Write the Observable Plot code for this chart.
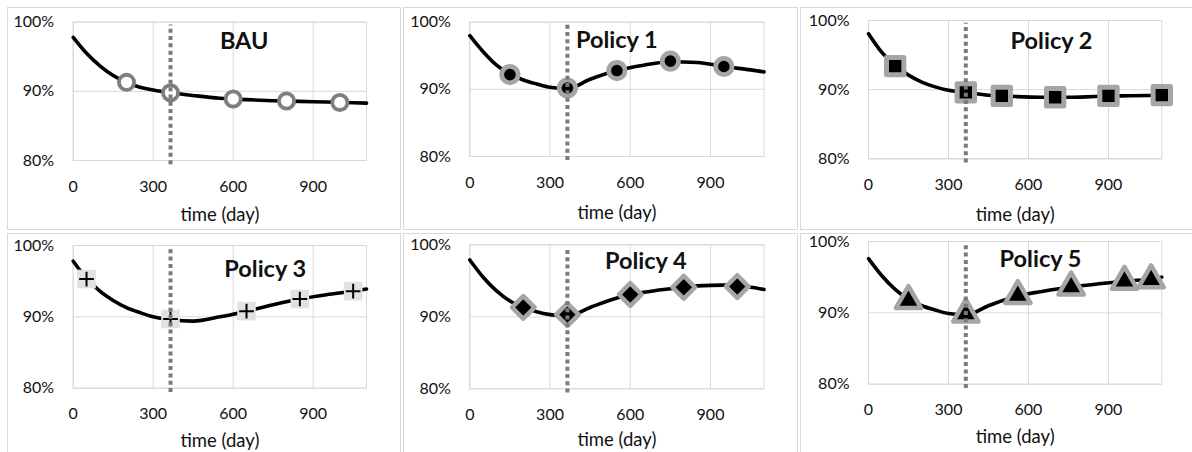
<!DOCTYPE html>
<html><head><meta charset="utf-8">
<script src="https://cdn.jsdelivr.net/npm/d3@7"></script>
<script src="https://cdn.jsdelivr.net/npm/@observablehq/plot@0.6"></script>
<style>
html,body{margin:0;padding:0;background:#fff;}
#chart{position:relative;width:1192px;height:452px;overflow:hidden;background:#fff;font-family:Lato,sans-serif;}
.cell{position:absolute;border:1px solid #d9d9d9;box-sizing:border-box;}
#chart svg{position:absolute;overflow:visible;}
</style></head><body><div id="chart"></div>
<script>
// ---- data ----
const panelNames = ["BAU", "Policy 1", "Policy 2", "Policy 3", "Policy 4", "Policy 5"];
const xTicks = [0, 300, 600, 900];
const yTicks = [0.8, 0.9, 1.0];
const xAxisLabel = "time (day)";
const policyStartDay = 365;
const dividerRange = [0.794, 0.996];

const curveDays = [0, 50, 100, 150, 200, 250, 300, 365, 450, 550, 650, 750, 850, 950, 1050, 1100];
const curveBAU = [0.978, 0.955, 0.937, 0.923, 0.913, 0.906, 0.902, 0.898, 0.894, 0.890, 0.888, 0.8865, 0.8855, 0.8845, 0.8835, 0.883];
const curveP1  = [0.980, 0.956, 0.936, 0.923, 0.914, 0.908, 0.903, 0.901, 0.915, 0.928, 0.936, 0.941, 0.940, 0.934, 0.929, 0.926];
const curveP2  = [0.981, 0.954, 0.935, 0.921, 0.911, 0.904, 0.899, 0.896, 0.892, 0.890, 0.889, 0.889, 0.890, 0.891, 0.8915, 0.892];
const curveP3  = [0.978, 0.954, 0.936, 0.923, 0.913, 0.906, 0.900, 0.896, 0.894, 0.900, 0.908, 0.917, 0.925, 0.931, 0.936, 0.939];
const curveP4  = [0.979, 0.955, 0.936, 0.922, 0.913, 0.907, 0.903, 0.901, 0.913, 0.926, 0.934, 0.939, 0.943, 0.944, 0.941, 0.938];
const curveP5  = [0.976, 0.952, 0.933, 0.919, 0.910, 0.904, 0.899, 0.897, 0.910, 0.923, 0.930, 0.936, 0.940, 0.944, 0.947, 0.950];

const markerDaysBAU = [200, 365, 600, 800, 1000];
const markerBAU     = [0.913, 0.898, 0.889, 0.886, 0.884];
const markerDaysP1  = [150, 365, 550, 750, 950];
const markerP1      = [0.922, 0.902, 0.928, 0.942, 0.934];
const markerDaysP2  = [100, 365, 500, 700, 900, 1100];
const markerP2      = [0.934, 0.896, 0.891, 0.889, 0.891, 0.892];
const markerDaysP3  = [50, 365, 650, 850, 1050];
const markerP3      = [0.953, 0.897, 0.908, 0.925, 0.936];
const markerDaysP4  = [200, 365, 600, 800, 1000];
const markerP4      = [0.913, 0.903, 0.931, 0.941, 0.942];
const markerDaysP5  = [150, 365, 560, 760, 960, 1060];
const markerP5      = [0.917, 0.898, 0.924, 0.936, 0.944, 0.946];

const curves = [curveBAU, curveP1, curveP2, curveP3, curveP4, curveP5];
const markerDays = [markerDaysBAU, markerDaysP1, markerDaysP2, markerDaysP3, markerDaysP4, markerDaysP5];
const markerVals = [markerBAU, markerP1, markerP2, markerP3, markerP4, markerP5];

// ---- layout (pixels) ----
const layout = [
  {cx: 7,   cy: 7,   cw: 394, ch: 223, L: 72.7,  R: 366,    T: 21.7,  B: 160,   labelY: 215,   tdx: 171, tdy: 19},
  {cx: 403, cy: 7,   cw: 395, ch: 223, L: 469.3, R: 763.5,  T: 21.7,  B: 156,   labelY: 213,   tdx: 147, tdy: 18.5},
  {cx: 800, cy: 7,   cw: 420, ch: 223, L: 868,   R: 1161.3, T: 20,    B: 158.3, labelY: 215,   tdx: 183, tdy: 20.5},
  {cx: 7,   cy: 233, cw: 394, ch: 240, L: 72.7,  R: 366,    T: 245,   B: 387.7, labelY: 441,   tdx: 192, tdy: 23.5},
  {cx: 403, cy: 233, cw: 395, ch: 240, L: 469.3, R: 763.5,  T: 244.3, B: 388.3, labelY: 439.3, tdx: 176, tdy: 17},
  {cx: 800, cy: 233, cw: 420, ch: 240, L: 868,   R: 1161.3, T: 241,   B: 383.7, labelY: 437,   tdx: 172, tdy: 18}
];

const grey = "#a5a5a5";
function markerMarks(i, data) {
  const xy = {x: "day", y: "value"};
  switch (i) {
    case 0: return [Plot.dot(data, {...xy, symbol: "circle", r: 7.6, fill: "white", stroke: "#7f7f7f", strokeWidth: 3.8})];
    case 1: return [Plot.dot(data, {...xy, symbol: "circle", r: 8.2, fill: "black", stroke: grey, strokeWidth: 4.8})];
    case 2: return [Plot.dot(data, {...xy, symbol: "square", r: 9.8, fill: "black", stroke: grey, strokeWidth: 5, strokeLinejoin: "round"})];
    case 3: return [
      Plot.dot(data, {...xy, symbol: "square", r: 10.5, fill: "#e2e2e2", stroke: "none"}),
      Plot.dot(data, {...xy, symbol: "plus", r: 4.8, stroke: "black", strokeWidth: 2, fill: "none"})
    ];
    case 4: return [Plot.dot(data, {...xy, symbol: "diamond2", r: 10.2, fill: "black", stroke: grey, strokeWidth: 4.5, strokeLinejoin: "round"})];
    case 5: return [Plot.dot(data, {...xy, symbol: "triangle", r: 9.4, fill: "black", stroke: grey, strokeWidth: 4.5, strokeLinejoin: "round"})];
  }
}

const chart = document.getElementById("chart");
layout.forEach((g, i) => {
  const cell = document.createElement("div");
  cell.className = "cell";
  Object.assign(cell.style, {left: g.cx + "px", top: g.cy + "px", width: g.cw + "px", height: g.ch + "px"});
  chart.appendChild(cell);

  const curveData = curveDays.map((d, k) => ({day: d, value: curves[i][k]}));
  const mData = markerDays[i].map((d, k) => ({day: d, value: markerVals[i][k]}));

  const svg = Plot.plot({
    width: g.cw, height: g.ch,
    marginLeft: g.L - g.cx, marginRight: g.cx + g.cw - g.R,
    marginTop: g.T - g.cy, marginBottom: g.cy + g.ch - g.B,
    style: {fontFamily: "Lato, sans-serif", fontSize: "16px", color: "#111", background: "transparent", overflow: "visible"},
    x: {domain: [0, 1100], axis: null},
    y: {domain: [0.8, 1.0], axis: null},
    marks: [
      Plot.ruleX(xTicks, {stroke: "#d9d9d9", strokeWidth: 1}),
      Plot.ruleY(yTicks, {stroke: "#d9d9d9", strokeWidth: 1}),
      Plot.frame({stroke: "#d9d9d9", strokeWidth: 1}),
      Plot.text(yTicks, {y: d => d, frameAnchor: "left", dx: -19, textAnchor: "end", lineAnchor: "middle", text: d3.format(".0%"), fontSize: 16, fill: "#111"}),
      Plot.text(xTicks, {x: d => d, frameAnchor: "bottom", dy: 26, textAnchor: "middle", lineAnchor: "middle", text: d => String(d), fontSize: 16, fill: "#111"}),
      Plot.line(curveData, {x: "day", y: "value", curve: "monotone-x", stroke: "black", strokeWidth: 3.6}),
      ...markerMarks(i, mData),
      Plot.ruleX([policyStartDay], {y1: dividerRange[0], y2: dividerRange[1], stroke: "#7a7a7a", strokeWidth: 4, strokeDasharray: "4,3.3"}),
      Plot.text([panelNames[i]], {frameAnchor: "top-left", dx: g.tdx, dy: g.tdy, textAnchor: "middle", lineAnchor: "middle", fontSize: 23.5, fontWeight: "bold", fill: "#111"}),
      Plot.text([xAxisLabel], {frameAnchor: "bottom", dy: g.labelY - g.B, lineAnchor: "middle", fontSize: 18.5, fill: "#111"})
    ]
  });
  svg.style.left = g.cx + "px";
  svg.style.top = g.cy + "px";
  chart.appendChild(svg);
});
</script></body></html>
